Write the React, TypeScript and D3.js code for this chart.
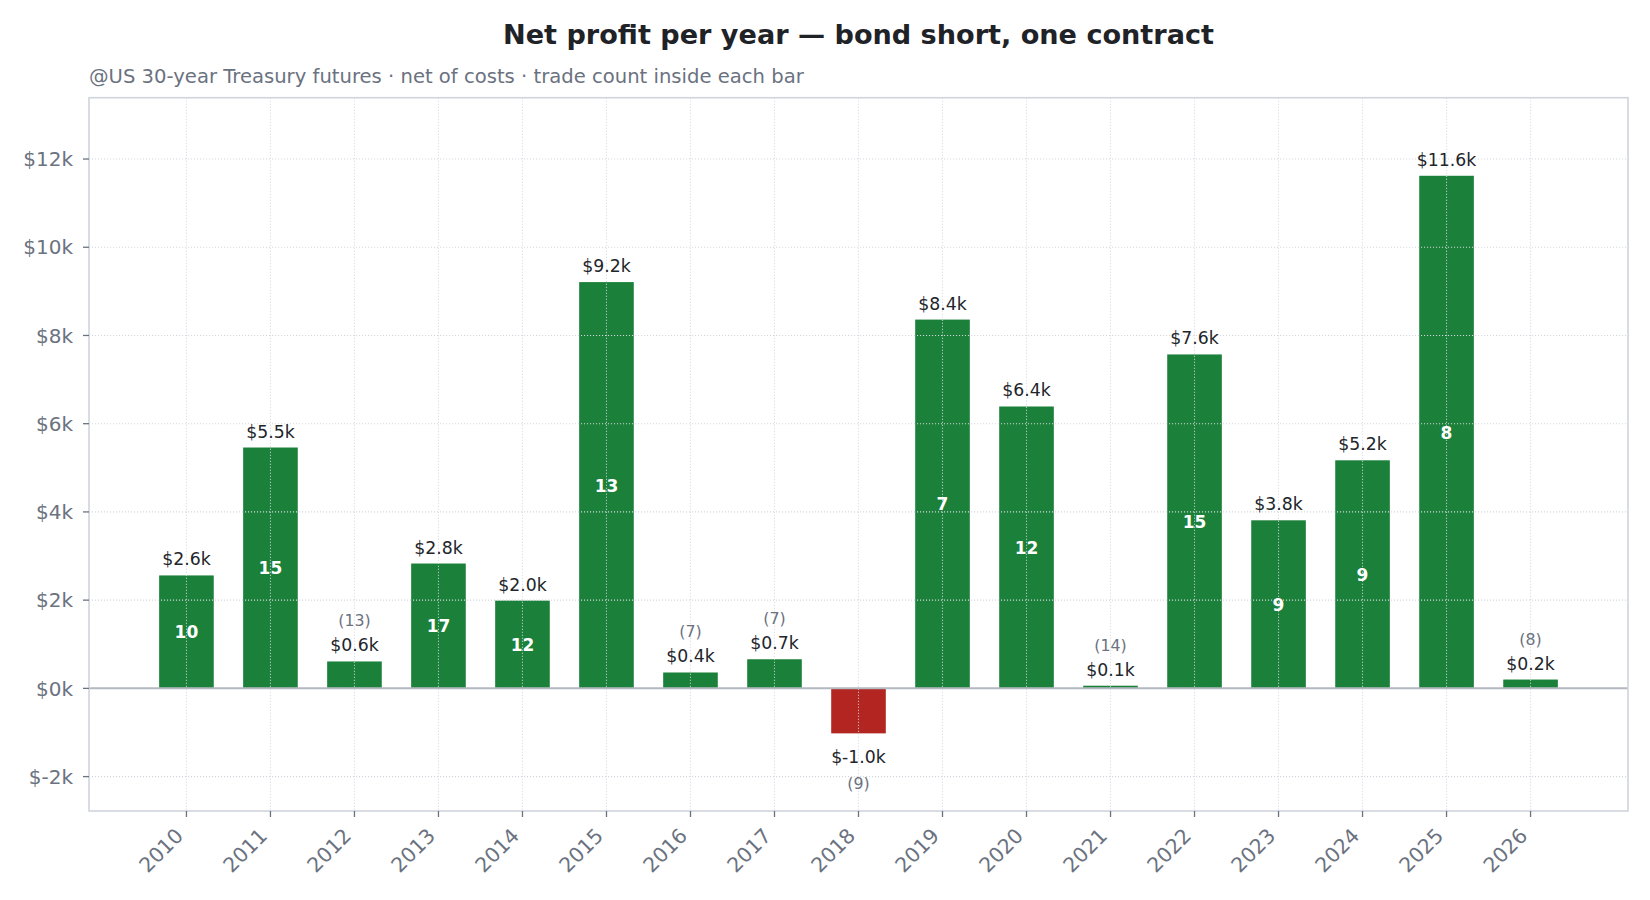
import * as d3 from "d3";

// ── Data ──────────────────────────────────────────────────────
const YEARS = [
  "2010", "2011", "2012", "2013", "2014", "2015", "2016", "2017", "2018",
  "2019", "2020", "2021", "2022", "2023", "2024", "2025", "2026",
];
const NET_PROFIT = [
  2560, 5460, 610, 2830, 1990, 9210, 360, 660, -1020,
  8360, 6390, 60, 7570, 3810, 5170, 11620, 200,
];
const TRADES = [10, 15, 13, 17, 12, 13, 7, 7, 9, 7, 12, 14, 15, 9, 9, 8, 8];
const Y_TICKS = [-2000, 0, 2000, 4000, 6000, 8000, 10000, 12000];

const TITLE = "Net profit per year — bond short, one contract";
const SUBTITLE = "@US 30-year Treasury futures · net of costs · trade count inside each bar";

// ── Geometry ──────────────────────────────────────────────────
const W = 1650;
const H = 900;
const PLOT = { left: 89, right: 1628, top: 97.7, bottom: 811 };
const FONT = "'DejaVu Sans', Verdana, sans-serif";
const GREEN = "#1b8039";
const RED = "#b22520";
const GREY = "#6b7280";
const INK = "#22252a";
const INSIDE_MIN = 1500; // bars taller than this carry their count inside

export default function App() {
  const x = d3
    .scaleBand<string>()
    .domain(YEARS)
    .range([PLOT.left, PLOT.right])
    .paddingInner(0.35)
    .paddingOuter(0.835);
  const y = d3.scaleLinear().domain([-2780, 13390]).range([PLOT.bottom, PLOT.top]);
  const cx = (yr: string) => (x(yr) as number) + x.bandwidth() / 2;
  const y0 = y(0);

  const fmtVal = (v: number) => `$${(v / 1000).toFixed(1)}k`;
  const fmtTick = (v: number) => `$${v / 1000}k`;

  return (
    <div>
      <style>{`body{margin:0;background:#fff}`}</style>
      <svg width={W} height={H} style={{ display: "block", fontFamily: FONT }}>
        <rect width={W} height={H} fill="#fff" />

        {/* Title block */}
        <text x={(PLOT.left + PLOT.right) / 2} y={44} textAnchor="middle"
          fontSize={27.1} fontWeight="bold" fill="#1f2328">
          {TITLE}
        </text>
        <text x={PLOT.left} y={83} fontSize={19.6} fill={GREY}>
          {SUBTITLE}
        </text>

        {/* Bars */}
        {YEARS.map((yr, i) => {
          const v = NET_PROFIT[i];
          const top = Math.min(y(v), y0);
          return (
            <rect key={`b-${yr}`} x={x(yr)} y={top} width={x.bandwidth()}
              height={Math.abs(y(v) - y0)} fill={v >= 0 ? GREEN : RED} />
          );
        })}

        {/* Dotted grid, drawn over the bars */}
        {Y_TICKS.map((t) => (
          <line key={`gy-${t}`} x1={PLOT.left} x2={PLOT.right} y1={y(t)} y2={y(t)}
            stroke="#d3d7dd" strokeWidth={1.1} strokeDasharray="1.1,1.9" />
        ))}
        {YEARS.map((yr) => (
          <line key={`gx-${yr}`} x1={cx(yr)} x2={cx(yr)} y1={PLOT.top} y2={PLOT.bottom}
            stroke="#d3d7dd" strokeWidth={1.1} strokeDasharray="1.1,1.9" />
        ))}

        {/* Zero line */}
        <line x1={PLOT.left} x2={PLOT.right} y1={y0} y2={y0} stroke="#b4b9c1" strokeWidth={2} />

        {/* Frame */}
        <rect x={PLOT.left} y={PLOT.top} width={PLOT.right - PLOT.left}
          height={PLOT.bottom - PLOT.top} fill="none" stroke="#d0d5dc" strokeWidth={1.6} />

        {/* Y axis */}
        {Y_TICKS.map((t) => (
          <g key={`yt-${t}`}>
            <line x1={PLOT.left - 6} x2={PLOT.left} y1={y(t)} y2={y(t)} stroke={GREY} strokeWidth={1.3} />
            <text x={PLOT.left - 16} y={y(t) + 7.2} textAnchor="end" fontSize={20} fill={GREY}>
              {fmtTick(t)}
            </text>
          </g>
        ))}

        {/* X axis */}
        {YEARS.map((yr) => {
          const tx = cx(yr);
          const ox = tx - 7;
          const oy = PLOT.bottom + 21;
          return (
            <g key={`xt-${yr}`}>
              <line x1={tx} x2={tx} y1={PLOT.bottom} y2={PLOT.bottom + 6} stroke={GREY} strokeWidth={1.3} />
              <text x={ox} y={oy} textAnchor="end" fontSize={20.4} fill={GREY} dy="0.35em"
                transform={`rotate(-45, ${ox}, ${oy})`}>
                {yr}
              </text>
            </g>
          );
        })}

        {/* Labels */}
        {YEARS.map((yr, i) => {
          const v = NET_PROFIT[i];
          const n = TRADES[i];
          const px = cx(yr);
          const inside = Math.abs(v) >= INSIDE_MIN;
          const valY = v >= 0 ? y(v) - 10 : y(v) + 29.6;
          const cntY = v >= 0 ? valY - 25 : valY + 26;
          return (
            <g key={`l-${yr}`}>
              <text x={px} y={valY} textAnchor="middle" fontSize={17.3} fill={INK}>
                {fmtVal(v)}
              </text>
              {inside ? (
                <text x={px} y={(y(v) + y0) / 2 + 6.5} textAnchor="middle" fontSize={17}
                  fontWeight="bold" fill="#fff">
                  {n}
                </text>
              ) : (
                <text x={px} y={cntY} textAnchor="middle" fontSize={15.8} fill={GREY}>
                  ({n})
                </text>
              )}
            </g>
          );
        })}
      </svg>
    </div>
  );
}
